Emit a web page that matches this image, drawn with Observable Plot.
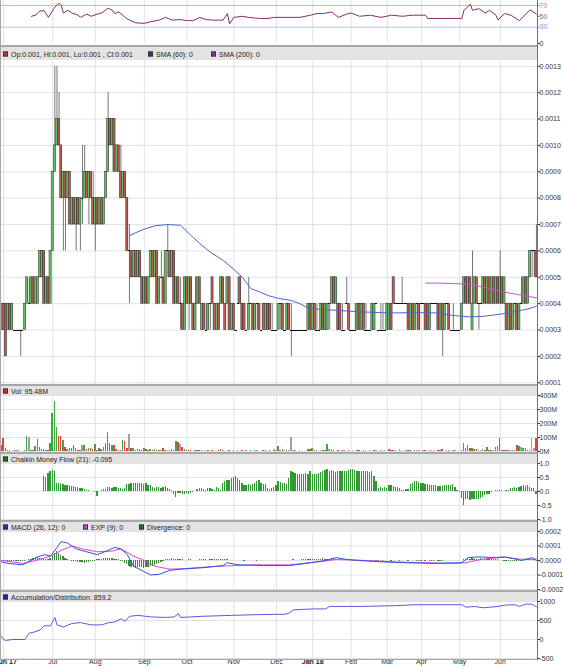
<!DOCTYPE html>
<html><head><meta charset="utf-8">
<script src="https://cdn.jsdelivr.net/npm/d3@7"></script>
<script src="https://cdn.jsdelivr.net/npm/@observablehq/plot@0.6"></script>
<style>
html,body{margin:0;padding:0;background:#fff;}
#wrap{position:relative;width:563px;height:669px;overflow:hidden;font-family:"Liberation Sans",Arial,sans-serif;}
.band{position:absolute;left:0;width:537px;background:#e3e3e3;border-top:1px solid #a8a8a8;box-sizing:border-box;font-size:7px;color:#222;white-space:nowrap;}
.band .t{position:absolute;top:50%;transform:translateY(-50%);line-height:1;}
.band .sq{position:absolute;top:50%;transform:translateY(-50%);width:5px;height:5px;box-sizing:border-box;border:1px solid #333;}
.hl{position:absolute;left:0;width:537px;height:1px;background:#a8a8a8;}
.vl{position:absolute;top:0;width:1px;}
</style></head><body><div id="wrap"></div>
<script>
// ---- Month axis (bar index of first bar in each month) ----
const monthStart = [1,24,44,67,87,109,129,146,164,181,197,215,234];
const monthLabel = ["Jun 17","Jul","Aug","Sep","Oct","Nov","Dec","Jan 18","Feb","Mar","Apr","May","Jun"];
const monthBold  = [true,false,false,false,false,false,false,true,false,false,false,false,false];

// ---- Daily prices, units of 0.0001 ----
const open = [
3,4,4,3,4,3,3,3,3,3, 3,3,4,4,4,5,4,4,5,5, 6,4,5,4,6,9,10,11,10,8, 9,8,9,7,8,7,8,7,8,8,
9,8,9,8,7,8,7,8,7,8, 9,11,10,11,9,10,9,8,9,8, 6,6,5,6,5,6,5,4,5,4, 5,6,5,6,4,5,5,4,6,6,
5,6,4,5,4,4,3,5,4,5, 4,3,4,5,3,4,3,3,4,5, 4,3,4,4,5,4,4,5,3,4, 3,4,5,4,4,3,3,4,4,3,
4,4,3,4,3,4,4,3,3,3, 3,4,4,3,3,4,3,3,3,3, 3,3,3,3,3,4,3,4,3,3, 3,4,3,3,4,4,5,4,4,4,
3,3,4,4,3,3,3,3,4,3, 4,3,3,3,3,3,4,3,3,3, 3,3,3,4,5,4,4,4,4,4, 4,4,3,4,3,4,4,4,4,4,
4,3,4,4,4,4,3,4,3,4, 4,3,3,3,3,3,3,4,5,4, 5,3,4,5,4,4,4,5,4,5, 4,5,4,5,4,5,4,4,3,4,
3,4,4,3,4,4,5,4,5,6,6,6];
const high = [
4,4,4,4,4,4,3,3,3,3, 3,4,5,5,5,5,5,5,6,6, 6,5,5,6,9,13,13,12,10,9, 9,9,9,8,8,8,8,8,10,10,
9,9,9,9,8,8,8,8,8,9, 12,11,11,11,10,10,10,9,9,8, 7,6,6,6,6,6,5,5,5,5, 6,6,6,6,5,6,5,6,7,6,
6,6,5,5,5,4,5,5,5,5, 4,5,5,5,4,4,4,4,4,5, 4,4,4,5,5,4,5,5,4,4, 3,5,5,4,4,3,5,4,4,4,
4,4,3,4,4,4,4,4,3,3, 4,4,4,3,4,4,4,3,3,3, 3,3,3,3,4,4,4,4,4,3, 4,4,4,4,4,5,5,5,4,4,
4,3,5,4,3,3,4,4,4,4, 4,4,3,3,4,4,4,3,4,4, 3,4,4,4,5,4,4,4,5,4, 4,4,4,4,4,4,4,4,4,4,
4,4,4,4,4,4,4,4,4,4, 4,3,4,3,3,3,4,5,5,5, 5,6,5,5,4,4,5,5,5,5, 5,5,5,5,6,5,5,4,4,4,
4,4,4,4,5,5,5,5,6,6,6,7];
const low = [
3,3,2,3,3,3,3,3,3,2, 3,3,4,4,4,4,4,4,5,5, 4,4,4,4,6,9,10,10,8,6, 6,8,7,7,7,6,7,6,7,8,
8,7,8,7,6,7,7,7,7,8, 9,10,10,9,9,9,8,8,8,6, 4,5,5,5,5,5,4,4,4,4, 5,5,5,4,4,5,4,4,5,5,
5,4,4,4,3,3,3,4,3,4, 3,3,4,4,3,3,3,3,3,4, 3,3,3,4,4,3,4,3,3,3, 3,4,4,3,3,3,3,4,3,3,
3,3,3,3,3,3,3,3,3,3, 3,3,3,3,3,3,2,3,3,3, 3,3,3,3,3,3,3,3,3,3, 3,3,3,3,3,4,4,4,3,3,
3,3,4,3,3,3,3,3,3,3, 3,3,3,3,3,3,4,3,3,3, 3,3,3,3,4,4,4,4,4,4, 4,3,3,3,3,3,3,4,4,3,
3,3,4,4,4,3,3,2,3,4, 3,3,3,3,3,3,3,4,4,4, 4,3,4,4,3,4,4,4,4,4, 4,4,4,4,4,4,4,3,3,3,
3,3,3,3,4,4,4,4,5,5,5,5];
const close = [
4,3,2,4,3,4,3,3,3,3, 3,4,5,4,5,4,5,5,6,6, 4,5,4,6,9,10,11,10,8,9, 8,9,7,8,7,8,7,8,8,9,
8,9,8,7,8,7,8,7,8,9, 11,10,11,9,10,9,8,9,8,6, 6,5,6,5,6,5,4,5,4,5, 6,5,6,4,5,5,4,6,6,5,
6,4,5,4,4,3,5,4,5,4, 3,4,5,4,4,3,3,4,4,4, 3,4,3,5,4,3,5,3,4,3, 3,4,4,3,3,3,4,4,3,4,
4,3,3,3,4,3,3,3,3,3, 4,4,3,3,4,3,3,3,3,3, 3,3,3,3,4,3,4,3,3,3, 4,3,4,4,4,5,4,5,3,3,
3,3,4,3,3,3,3,4,3,4, 3,3,3,3,4,4,4,3,3,3, 3,4,4,3,4,4,4,4,4,4, 4,3,4,3,4,4,3,4,4,3,
3,4,4,4,4,3,4,3,4,4, 3,3,3,3,3,3,4,5,4,5, 4,4,5,4,4,4,5,4,5,4, 5,4,5,4,5,4,5,3,4,3,
4,4,3,4,4,5,4,5,6,6,6,5];

// ---- Daily volume, millions ----
const volume = [
45,95,18,5,4,3,10,10,8,3, 2,5,105,98,8,10,35,85,30,12, 15,5,10,60,275,360,175,110,110,80, 30,12,25,20,45,20,10,8,45,40,
15,20,25,15,50,10,25,12,30,55, 135,55,45,40,12,8,10,80,70,20, 125,25,20,8,15,12,10,20,15,5, 12,10,12,8,5,8,25,10,5,8,
12,5,75,65,50,30,15,10,5,8, 3,5,8,4,10,3,4,5,3,6, 3,2,4,12,10,3,2,4,2,5, 3,4,2,5,3,6,2,4,3,5,
4,2,3,5,6,3,4,2,12,4, 35,8,12,5,4,6,100,10,4,3, 5,3,3,3,15,15,18,5,4,3, 5,4,8,50,15,12,4,3,5,2,
4,6,3,5,2,4,3,6,5,3, 4,8,3,5,2,6,4,3,5,4, 6,3,15,10,8,4,3,12,5,3, 4,6,8,3,5,4,10,3,6,4,
3,5,4,6,3,4,5,12,3,4, 6,3,4,5,3,2,8,55,20,40, 25,25,12,15,10,8,12,5,30,10, 5,8,30,35,95,8,5,10,5,8,
5,10,40,35,30,25,20,8,5,95,20,95.48];

// ---- Chaikin Money Flow (21), x100 ----
const cmf = [
null,null,null,null,null,null,null,null,null,null, null,null,null,null,null,null,null,null,null,null,
55,50,65,72,75,70,30,28,27,25, 22,20,20,18,18,15,15,12,10,8, 5,3,0,0,-5,-18,0,5,6,8, 15,15,12,15,13,12,10,8,12,25,
26,28,30,28,30,28,28,25,27,22, 20,15,12,15,15,12,15,18,12,8, 5,-10,-20,-8,-8,-10,-10,-8,-10,-8, -5,0,8,10,10,8,5,10,12,8,
5,15,12,5,30,35,40,38,45,50, 55,48,40,30,20,20,25,22,25,30, 35,40,30,25,25,10,8,10,15,20, 35,32,30,30,25,45,70,68,65,62,
60,62,60,65,62,70,62,60,60,65, 68,70,75,78,72,75,72,68,70,72, 70,72,72,75,80,78,75,72,70,72, 70,72,70,68,70,55,35,10,15,12,
15,12,20,20,18,15,15,12,5,5, 8,8,25,30,35,35,33,28,28,25, 25,22,20,20,20,18,18,18,20,20, 22,22,25,15,5,-5,-25,-50,-30,-30,
-32,-30,-28,-30,-28,-25,-20,-15,-12,-10, -5,0,5,3,2,2,0,2,5,10, 12,15,12,15,18,20,18,20,15,12,10,-9.5];

// ---- MACD divergence, units of 0.000001 ----
const divergence = [
-8,-10,-10,-12,-12,-10,-10,-8,-8,-8, -6,-5,-3,5,10,12,15,18,15,12, 10,8,10,15,30,50,60,45,35,25, 15,8,2,-5,-8,-10,-12,-15,-15,-18,
-15,-12,-10,-8,-5,5,8,10,12,15, 12,15,12,10,8,5,-5,-10,-20,-30, -40,-45,-50,-52,-50,-48,-50,-52,-50,-45, -40,-38,-35,-30,-20,-15,-8,5,8,10,
12,10,8,10,8,5,3,2,4,5, 3,2,3,4,5,5,4,3,5,6, 5,4,5,8,10,8,6,3,2,0, -2,-3,-2,-3,-4,-3,-2,-3,-2,-3,
-4,-3,-2,-2,-3,-2,-3,-2,-3,-2, -2,-3,-2,0,2,3,2,4,3,2, 3,4,5,6,8,10,8,10,9,8, 10,12,10,8,10,12,8,6,4,3,
2,0,-2,-3,-2,-3,-4,-3,-2,-3, -4,-3,-2,-3,-4,-3,-5,-4,-3,-4, -3,-2,-3,-4,-3,-2,-3,-4,-3,-2, -3,-4,-3,-2,-3,-4,-5,-4,-3,-4,
-3,-4,-5,-4,-3,-4,-5,-4,-3,-2, -3,-2,-3,-2,-1,0,3,8,10,12, 10,12,10,8,10,12,10,8,10,8, 6,8,5,4,2,-2,-4,-5,-6,-5,
-6,-5,-4,-3,-2,2,5,8,10,8,6,0];

// ---- Line indicators as [bar, value] points ----
const rsiPts = [[14,50],[16,52],[18,60],[20,60],[22,48],[25,67],[27,74],[28,70],[29,56],[31,61],[33,56],[36,52],[37,48],[40,54],[42,50],[45,54],[47,56],[50,65],[52,61],[53,55],[55,58],[58,48],[60,43],[63,38],[67,37],[70,40],[74,43],[77,48],[80,43],[84,44],[87,42],[90,42],[93,48],[96,44],[99,43],[104,43],[106,55],[107,36],[109,48],[113,50],[116,48],[121,46],[125,46],[128,48],[133,48],[140,48],[145,52],[148,55],[151,55],[155,58],[158,48],[162,54],[164,56],[168,50],[173,52],[178,48],[183,52],[188,50],[193,52],[199,52],[200,46],[216,46],[217,61],[220,72],[221,61],[224,64],[227,56],[229,61],[232,52],[233,43],[236,55],[239,52],[243,42],[246,54],[248,62],[251,54]];
const sma60Pts = [[60,6.58],[66,6.8],[72,6.95],[78,7.0],[84,6.97],[89,6.58],[93,6.28],[98,5.95],[104,5.64],[109,5.3],[113,5.0],[117,4.57],[121,4.45],[125,4.31],[130,4.2],[136,4.12],[140,4.0],[144,3.82],[150,3.78],[159,3.74],[166,3.7],[172,3.68],[178,3.66],[185,3.65],[195,3.66],[205,3.65],[212,3.55],[220,3.5],[226,3.52],[232,3.58],[238,3.65],[244,3.75],[248,3.82],[251,3.9]];
const sma200Pts = [[199,4.78],[205,4.78],[212,4.76],[218,4.74],[222,4.7],[226,4.62],[230,4.55],[235,4.45],[240,4.38],[245,4.3],[251,4.22]];
const macdPts = [[0,-10],[3,-20],[10,-30],[16,20],[20,40],[23,30],[26,90],[28,130],[31,120],[35,80],[40,60],[45,40],[50,70],[53,90],[56,80],[59,40],[62,-40],[66,-70],[70,-100],[74,-95],[79,-67],[84,-60],[94,-50],[104,-35],[106,-15],[111,-30],[123,-35],[135,-35],[143,-20],[152,0],[157,20],[162,7],[168,0],[179,-10],[189,-15],[202,-20],[216,-15],[219,20],[224,25],[231,20],[236,25],[241,10],[244,0],[249,20],[251,0]];
const expPts = [[0,0],[10,-20],[16,0],[23,30],[28,70],[33,100],[38,80],[45,60],[52,65],[56,80],[62,30],[67,0],[72,-40],[79,-60],[87,-55],[101,-40],[118,-30],[135,-30],[148,-10],[157,7],[168,2],[185,-10],[211,-20],[218,-15],[226,10],[236,23],[243,10],[248,7],[251,10]];
const adPts = [[0,80],[1,0],[2,-25],[5,0],[11,0],[13,170],[15,190],[18,250],[20,360],[23,360],[25,580],[26,385],[29,330],[33,420],[37,445],[42,385],[47,385],[50,440],[53,460],[56,545],[58,475],[60,610],[64,635],[70,595],[77,580],[81,595],[83,680],[84,580],[94,610],[108,635],[121,655],[133,665],[135,700],[137,780],[146,805],[152,805],[154,870],[168,870],[185,890],[194,915],[216,915],[218,850],[222,870],[226,835],[233,870],[236,905],[241,915],[243,870],[246,930],[249,930],[251,859.2]];

// ---- Axis ticks ----
const priceTicks = [0.0001,0.0002,0.0003,0.0004,0.0005,0.0006,0.0007,0.0008,0.0009,0.0010,0.0011,0.0012,0.0013];
const volTicks = [0,100,200,300,400];
const cmfTicks = [-1,-0.5,0,0.5,1];
const macdTicks = [-0.0002,-0.0001,0,0.0001,0.0002];
const adTicks = [-500,0,500,1000];

// ---- Build table ----
const bars = open.map((o,i)=>({i, o:o*1e-4, h:high[i]*1e-4, l:low[i]*1e-4, c:close[i]*1e-4,
  v:volume[i], cmf: cmf[i]==null?null:cmf[i]/100, dv: divergence[i]*1e-6}));
const months = monthStart.map((i,k)=>({i, label:monthLabel[k], bold:monthBold[k], first:k===0}));

const wrap = document.getElementById("wrap");
const GRID = "#e2e2e2";
const FONT = '"Liberation Sans", Arial, sans-serif';

function panel(top, height, mt, mb, domain, marks){
  const svg = Plot.plot({
    width:563, height, marginLeft:0, marginRight:26, marginTop:mt, marginBottom:mb,
    x:{domain:[-0.5,251.5], axis:null, label:null},
    y:{domain, axis:null, label:null},
    color:{type:"identity"},
    style:{fontFamily:FONT, fontSize:"7px", background:"transparent", color:"#333", overflow:"visible"},
    marks
  });
  svg.style.position="absolute"; svg.style.left="0px"; svg.style.top=top+"px";
  wrap.appendChild(svg);
}
function rAxis(ticks, fmt, color="#333"){
  return Plot.axisY(ticks,{anchor:"right", label:null, tickSize:2, tickPadding:0, tickFormat:fmt, fontSize:7, color});
}
const vgrid = () => Plot.ruleX(monthStart,{stroke:GRID});
const P = d => d[0], V = d => d[1];

// RSI panel (0..43 for 0..79)
panel(0, 45, 0, 2, [0,79], [
  vgrid(),
  Plot.ruleY([70],{stroke:"#f0a4a4"}),
  Plot.ruleY([30],{stroke:"#b8c0f0"}),
  Plot.line(rsiPts,{x:P, y:V, stroke:"#86305e", strokeWidth:1}),
  rAxis([70], d=>String(d), "#e07878"),
  rAxis([50], d=>String(d), "#777"),
  rAxis([30], d=>String(d), "#8a90e0"),
  rAxis([0], d=>String(d), "#333")
]);

// Main price panel (page y 60..384)
const UP="#62c062", DN="#c05858";
panel(60, 324, 0, 0, [0.0000936, 0.0013218], [
  Plot.ruleY(priceTicks,{stroke:GRID}),
  vgrid(),
  Plot.ruleX(bars.filter(b=>b.h>b.l),{x:"i", y1:"l", y2:"h", stroke:"#777", strokeWidth:1}),
  Plot.rect(bars.filter(b=>b.o!==b.c),{x1:b=>b.i-0.5, x2:b=>b.i+0.5, y1:b=>Math.min(b.o,b.c), y2:b=>Math.max(b.o,b.c),
    fill:b=>b.c>b.o?UP:DN, stroke:"#222", strokeWidth:0.45}),
  Plot.ruleY(bars.filter(b=>b.o===b.c),{y:"c", x1:b=>b.i-0.5, x2:b=>b.i+0.5, stroke:"#111", shapeRendering:"crispEdges"}),
  Plot.line(sma60Pts,{x:P, y:d=>d[1]*1e-4, stroke:"#4a66cc", strokeWidth:1}),
  Plot.line(sma200Pts,{x:P, y:d=>d[1]*1e-4, stroke:"#d050d0", strokeWidth:1}),
  rAxis(priceTicks, d=>d.toFixed(4))
]);

// Volume panel (0M at 451, 400M at 395)
const vcol = b => b.c>b.o ? "#3aa83a" : b.c<b.o ? "#ee3b3b" : "#a0a0a0";
panel(385, 68, 10, 2, [0,400], [
  Plot.ruleY(volTicks,{stroke:GRID}),
  vgrid(),
  Plot.rect(bars,{x1:b=>b.i-0.35, x2:b=>b.i+0.35, y1:0, y2:"v", fill:vcol, shapeRendering:"crispEdges"}),
  rAxis(volTicks, d=>d+"M")
]);

// CMF panel (1.0 at 463, -1.0 at 519)
panel(453, 68, 10, 2, [-1,1], [
  Plot.ruleY(cmfTicks,{stroke:GRID}),
  vgrid(),
  Plot.rect(bars.filter(b=>b.cmf!=null),{x1:b=>b.i-0.3, x2:b=>b.i+0.3, y1:0, y2:"cmf", fill:"#2f9a2f", shapeRendering:"crispEdges"}),
  rAxis(cmfTicks, d=>d.toFixed(1))
]);

// MACD panel (0.0002 at 531, -0.0002 at 589)
panel(521, 70, 10, 2, [-0.0002,0.0002], [
  Plot.ruleY(macdTicks,{stroke:GRID}),
  vgrid(),
  Plot.rect(bars,{x1:b=>b.i-0.3, x2:b=>b.i+0.3, y1:0, y2:"dv", fill:"#3a8a3a", shapeRendering:"crispEdges"}),
  Plot.line(expPts,{x:P, y:d=>d[1]*1e-6, stroke:"#e040e0", strokeWidth:1}),
  Plot.line(macdPts,{x:P, y:d=>d[1]*1e-6, stroke:"#3050e0", strokeWidth:1}),
  rAxis(macdTicks, d=>d.toFixed(4))
]);

// A/D panel (1000 at 601, -500 at 658) + month labels
panel(591, 78, 10, 11, [-500,1000], [
  Plot.ruleY(adTicks,{stroke:GRID}),
  vgrid(),
  Plot.line(adPts,{x:P, y:V, stroke:"#5a5ae0", strokeWidth:1}),
  rAxis(adTicks, d=>String(d)),
  Plot.text(months.filter(m=>!m.bold),{x:"i", text:"label", frameAnchor:"bottom", dy:5, fontSize:7, fill:"#333"}),
  Plot.text(months.filter(m=>m.bold && !m.first),{x:"i", text:"label", frameAnchor:"bottom", dy:5, fontSize:7, fontWeight:"bold", fill:"#222"}),
  Plot.text(months.filter(m=>m.first),{x:"i", text:"label", frameAnchor:"bottom", dy:5, dx:2, fontSize:7, fontWeight:"bold", fill:"#222"})
]);

// ---- Legend bands ----
function band(top, h, items){
  const d = document.createElement("div");
  d.className="band"; d.style.top=top+"px"; d.style.height=h+"px";
  for (const it of items){
    const s=document.createElement("div"); s.className="sq"; s.style.left=it.x+"px"; s.style.background=it.c; d.appendChild(s);
    const t=document.createElement("div"); t.className="t"; t.style.left=(it.x+8)+"px"; t.textContent=it.t; d.appendChild(t);
  }
  wrap.appendChild(d);
}
band(46,14,[{x:3,c:"#e03030",t:"Op:0.001, Hi:0.001, Lo:0.001 , Cl:0.001"},{x:148,c:"#1f3fa0",t:"SMA (60): 0"},{x:211,c:"#a020b0",t:"SMA (200): 0"}]);
band(385,10,[{x:3,c:"#e03030",t:"Vol: 95.48M"}]);
band(453,10,[{x:3,c:"#1f7a1f",t:"Chaikin Money Flow (21): -0.095"}]);
band(521,10,[{x:3,c:"#2030c0",t:"MACD (26, 12): 0"},{x:83,c:"#e040e0",t:"EXP (9): 0"},{x:139,c:"#1f7a1f",t:"Divergence: 0"}]);
band(591,10,[{x:3,c:"#2020a0",t:"Accumulation/Distribution: 859.2"}]);

// ---- Panel borders ----
for (const y of [45,384,452,520,590,659]){
  const l=document.createElement("div"); l.className="hl"; l.style.top=y+"px"; wrap.appendChild(l);
}
const left=document.createElement("div"); left.className="vl"; left.style.left="0px"; left.style.height="660px"; left.style.background="#a8a8a8"; wrap.appendChild(left);
const right=document.createElement("div"); right.className="vl"; right.style.left="537px"; right.style.height="660px"; right.style.background="#707070"; wrap.appendChild(right);
</script></body></html>
